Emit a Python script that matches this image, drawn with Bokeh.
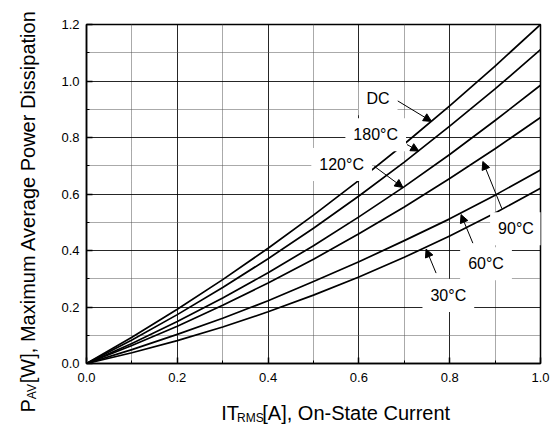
from math import pi
from bokeh.plotting import figure
from bokeh.layouts import row, column
from bokeh.models import (Range1d, FixedTicker, PrintfTickFormatter,
                          Label, Arrow, NormalHead)
from bokeh.core.properties import value
from bokeh.embed import file_html
from bokeh.resources import INLINE

# ---- data ----
current_a = [0.0, 0.1, 0.2, 0.3, 0.4, 0.5, 0.6, 0.7, 0.8, 0.9, 1.0]
p_dc    = [0.0, 0.093, 0.192, 0.297, 0.408, 0.525, 0.648, 0.777, 0.912, 1.053, 1.200]
p_180   = [0.0, 0.083, 0.173, 0.269, 0.371, 0.479, 0.593, 0.713, 0.840, 0.972, 1.111]
p_120   = [0.0, 0.071, 0.149, 0.232, 0.321, 0.417, 0.519, 0.626, 0.740, 0.860, 0.985]
p_90    = [0.0, 0.064, 0.132, 0.206, 0.285, 0.369, 0.459, 0.554, 0.655, 0.760, 0.871]
p_60    = [0.0, 0.049, 0.103, 0.160, 0.222, 0.290, 0.360, 0.435, 0.512, 0.596, 0.685]
p_30    = [0.0, 0.038, 0.081, 0.129, 0.183, 0.242, 0.306, 0.376, 0.451, 0.533, 0.620]
series = [p_dc, p_180, p_120, p_90, p_60, p_30]
series_labels = ["DC", "180°C", "120°C", "90°C", "60°C", "30°C"]
x_ticks = [0.0, 0.2, 0.4, 0.6, 0.8, 1.0]
x_minor = [0.1, 0.3, 0.5, 0.7, 0.9]
y_ticks = [0.0, 0.2, 0.4, 0.6, 0.8, 1.0, 1.2]
y_minor = [0.1, 0.3, 0.5, 0.7, 0.9, 1.1]
x_title = ["IT", "RMS", "[A], On-State Current"]
y_title = ["P", "AV", "[W], Maximum Average Power Dissipation"]

FONT = "Liberation Sans"
TOT_W, TOT_H = 554, 424
LEFT_W = 46
BOT_H = 30
MAIN_W, MAIN_H = TOT_W - LEFT_W, TOT_H - BOT_H
FRAME_L, FRAME_R, FRAME_T, FRAME_B = 86, 540, 24, 363   # page pixels

p = figure(width=MAIN_W, height=MAIN_H, x_range=Range1d(0, 1),
           y_range=Range1d(0, 1.2), output_backend="svg", toolbar_location=None,
           min_border_left=FRAME_L - LEFT_W, min_border_right=TOT_W - FRAME_R,
           min_border_top=FRAME_T, min_border_bottom=MAIN_H - FRAME_B)
p.background_fill_color = "white"
p.border_fill_color = "white"
p.outline_line_color = "black"
p.outline_line_width = 1.5
p.outline_line_alpha = 1.0

x_ticker = FixedTicker(ticks=x_ticks, minor_ticks=x_minor)
y_ticker = FixedTicker(ticks=y_ticks, minor_ticks=y_minor)
p.xaxis.ticker = x_ticker
p.yaxis.ticker = y_ticker
p.xgrid.ticker = x_ticker
p.ygrid.ticker = y_ticker

for ax in (p.xaxis[0], p.yaxis[0]):
    ax.formatter = PrintfTickFormatter(format="%.1f")
    ax.major_label_text_font = FONT
    ax.major_label_text_font_size = "13px"
    ax.major_label_text_color = "black"
    ax.axis_line_color = "black"
    ax.axis_line_width = 1.5
    ax.major_tick_in = 6
    ax.major_tick_out = 0
    ax.minor_tick_in = 3
    ax.minor_tick_out = 0
    ax.major_tick_line_color = "black"
    ax.minor_tick_line_color = "black"
    ax.major_tick_line_width = 1.5
p.xaxis.major_label_standoff = 9
p.yaxis.major_label_standoff = 7

for g in (p.xgrid[0], p.ygrid[0]):
    g.grid_line_color = "black"
    g.grid_line_width = 1
    g.grid_line_alpha = 0.85
    g.minor_grid_line_color = "#555555"
    g.minor_grid_line_dash = "1 1"
    g.minor_grid_line_width = 1

for s in series:
    p.line(current_a, s, line_color="black", line_width=1.7, line_join="round")

# arrows: (tail_x, tail_y, tip_x, tip_y) in data units
arrows = [
    (0.685, 0.930, 0.760, 0.857),
    (0.706, 0.775, 0.732, 0.752),
    (0.634, 0.698, 0.697, 0.623),
    (0.915, 0.548, 0.873, 0.715),
    (0.851, 0.426, 0.825, 0.527),
    (0.770, 0.320, 0.748, 0.405),
]
for x0, y0, x1, y1 in arrows:
    p.add_layout(Arrow(end=NormalHead(size=8, fill_color="black", line_color="black",
                                      line_width=1),
                       x_start=x0, y_start=y0, x_end=x1, y_end=y1,
                       line_color="black", line_width=1))

label_pos = [(0.642, 0.937), (0.637, 0.810), (0.562, 0.704),
             (0.946, 0.477), (0.880, 0.353), (0.797, 0.241)]
for (lx, ly), txt in zip(label_pos, series_labels):
    p.add_layout(Label(x=lx, y=ly, text=txt, text_align="center",
                       text_baseline="middle", text_font=FONT,
                       text_font_size="16px", text_color="black",
                       background_fill_color="white", background_fill_alpha=1.0,
                       padding=8))


def blank_fig(w, h, xr, yr):
    f = figure(width=w, height=h, x_range=Range1d(*xr), y_range=Range1d(*yr),
               output_backend="svg", toolbar_location=None,
               min_border=0, min_border_left=0, min_border_right=0,
               min_border_top=0, min_border_bottom=0)
    f.axis.visible = False
    f.grid.visible = False
    f.outline_line_color = None
    f.background_fill_color = "white"
    f.border_fill_color = "white"
    return f

# y-axis title panel: data x = page x, data y = TOT_H - page y
left = blank_fig(LEFT_W, TOT_H, (0, LEFT_W), (0, TOT_H))
ly_base = [27.0, 31.5, 27.0]
ly_start = [412.0, 398.7, 382.7]
ly_size = ["20px", "12px", "20px"]
for bx, sy, sz, txt in zip(ly_base, ly_start, ly_size, y_title):
    left.text(x=[bx], y=[TOT_H - sy], text=[txt], angle=pi / 2,
              text_font=value(FONT), text_font_size=value(sz),
              text_color="black", text_align="left", text_baseline="alphabetic")

# x-axis title panel: data x = page x, data y = TOT_H - page y
bottom = blank_fig(MAIN_W, BOT_H, (LEFT_W, TOT_W), (0, BOT_H))
bx_start = [196.7, 214.5, 242.7]
bx_base = [412.5, 417.0, 412.5]
bx_size = ["20px", "12px", "20px"]
for sx, by, sz, txt in zip(bx_start, bx_base, bx_size, x_title):
    bottom.text(x=[sx], y=[TOT_H - by], text=[txt],
                text_font=value(FONT), text_font_size=value(sz),
                text_color="black", text_align="left", text_baseline="alphabetic")

layout = row(left, column(p, bottom, spacing=0), spacing=0)
open("out.html", "w").write(file_html(layout, INLINE))
